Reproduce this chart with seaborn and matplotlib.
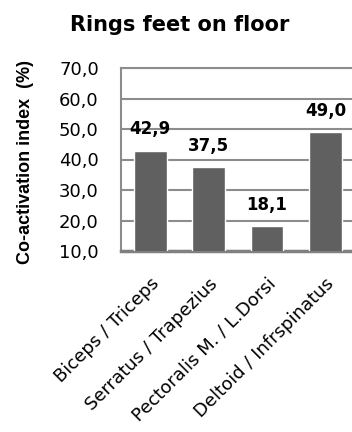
import matplotlib
matplotlib.use("Agg")
import matplotlib.pyplot as plt
import seaborn as sns
import pandas as pd

# Co-activation index per muscle pair
pairs = ["Biceps / Triceps", "Serratus / Trapezius",
         "Pectoralis M. / L.Dorsi", "Deltoid / Infrspinatus"]
index_values = [42.9, 37.5, 18.1, 49.0]
y_ticks = [10, 20, 30, 40, 50, 60, 70]
y_tick_labels = ["10,0", "20,0", "30,0", "40,0", "50,0", "60,0", "70,0"]

title_text = "Rings feet on floor"
y_label = "Co-activation index  (%)"

sns.set_style("white")
plt.rcParams["font.family"] = ["DejaVu Sans"]
plt.rcParams["text.color"] = "black"

df = pd.DataFrame({"pair": pairs, "value": index_values})

fig = plt.figure(figsize=(3.52, 4.32), dpi=100)
ax = fig.add_axes([121 / 352, 1 - 251 / 432, 233.5 / 352, 183 / 432])

sns.barplot(data=df, x="pair", y="value", color="#606060", width=0.56,
            saturation=1, ax=ax, zorder=3)

ax.set_ylim(10, 70)
ax.set_xlim(-0.5, 3.5)
ax.set_yticks(y_ticks)
ax.set_yticklabels(y_tick_labels)
ax.yaxis.grid(True, color="#8c8c8c", linewidth=1.5, zorder=0)
ax.set_axisbelow(True)

for side in ["top", "left"]:
    ax.spines[side].set_color("#8c8c8c")
    ax.spines[side].set_linewidth(1.5)
ax.spines["right"].set_visible(False)
ax.spines["bottom"].set_color("#808080")
ax.spines["bottom"].set_linewidth(2.5)

ax.tick_params(axis="y", length=0, pad=16, labelsize=13, labelcolor="black")
ax.tick_params(axis="x", length=0, pad=17, labelsize=13, labelcolor="black")
ax.set_xlabel("")
ax.set_ylabel("")

for lbl in ax.get_xticklabels():
    lbl.set_rotation(45)
    lbl.set_ha("right")
    lbl.set_va("top")
    lbl.set_rotation_mode("anchor")

ax.bar_label(ax.containers[0],
             labels=[f"{v:.1f}".replace(".", ",") for v in index_values],
             padding=9, fontsize=12, fontweight="bold", color="black")

fig.text(180 / 352, 1 - 31 / 432, title_text, ha="center", va="baseline",
         fontsize=15, fontweight="bold", color="black")
fig.text(26 / 352, 1 - 162 / 432, y_label, rotation=90, ha="center",
         va="center", fontsize=13, fontweight="bold", color="black",
         family=["Liberation Sans"])

fig.savefig("out.png", dpi=100)
